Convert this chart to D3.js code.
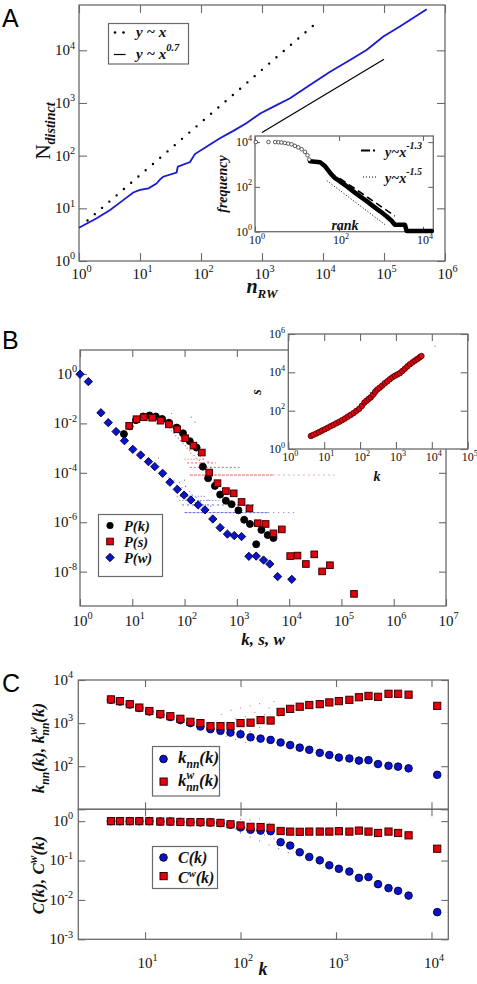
<!DOCTYPE html>
<html><head><meta charset="utf-8">
<script src="https://cdn.jsdelivr.net/npm/d3@7"></script>
<style>body{margin:0;background:#fff}</style>
</head><body>
<svg id="c" width="477" height="984"></svg>
<script>
// ---------------- DATA (values are log10 exponents) ----------------
// Panel A: distinct words vs random-walk steps
const walkCurve = [[0,0.63],[0.29,0.81],[0.51,0.97],[0.73,1.16],[0.89,1.30],[1.0,1.35],[1.14,1.38],[1.27,1.47],[1.33,1.55],[1.38,1.60],[1.60,1.68],[1.62,1.79],[1.82,1.88],[1.90,2.03],[2.09,2.17],[2.31,2.33],[2.53,2.47],[2.75,2.62],[2.97,2.80],[3.19,2.93],[3.46,3.09],[3.73,3.30],[4.11,3.59],[4.45,3.82],[4.72,4.01],[4.99,4.26],[5.26,4.45],[5.70,4.78]];
const refLinear = [[0.14,0.77],[3.94,4.57]];
const refPow07 = [[3.0,2.44],[5.0,3.83]];
const xTicksA = [0,1,2,3,4,5,6];
const yTicksA = [0,1,2,3,4];
// Panel A inset: rank-frequency
const rankOpen = [[0.02,4.0],[0.32,4.0],[0.48,4.0],[0.56,3.99],[0.63,3.98],[0.71,3.96],[0.79,3.93],[0.87,3.90],[0.95,3.83],[1.03,3.76],[1.11,3.68],[1.19,3.56],[1.25,3.41],[1.29,3.22]];
const rankFilled = [[1.31,3.14],[1.55,3.10],[1.67,2.92],[1.79,2.62],[1.90,2.40],[2.02,2.25],[2.18,2.03],[2.34,1.80],[2.50,1.58],[2.66,1.36],[2.82,1.13],[2.98,0.91],[3.13,0.69],[3.25,0.49],[3.33,0.31],[3.57,0.31],[3.61,0.03],[4.21,0.03]];
const refM13 = [[2.02,2.38],[3.33,0.70]];
const refM15 = [[1.71,2.28],[3.10,0.31]];
const xTicksAi = [0,2,4];
const yTicksAi = [0,2,4];
// Panel B: distributions
const Pk = [[0.84,-2.43],[0.95,-2.12],[1.07,-1.87],[1.21,-1.72],[1.33,-1.68],[1.45,-1.72],[1.57,-1.82],[1.70,-1.97],[1.85,-2.17],[1.97,-2.40],[2.10,-2.72],[2.23,-2.98],[2.35,-3.75],[2.45,-4.22],[2.58,-4.53],[2.68,-4.88],[2.79,-5.13],[2.90,-5.27],[3.03,-5.52],[3.14,-5.90],[3.25,-6.07],[3.37,-6.89],[3.47,-6.31],[3.59,-6.52],[3.70,-6.64]];
const Ps = [[0.94,-2.10],[1.08,-1.83],[1.22,-1.75],[1.38,-1.77],[1.54,-1.89],[1.70,-2.04],[1.86,-2.24],[2.01,-2.60],[2.17,-2.90],[2.33,-3.18],[2.47,-3.99],[2.63,-4.42],[2.79,-4.74],[2.94,-4.83],[3.09,-5.18],[3.24,-5.44],[3.40,-6.04],[3.55,-6.07],[3.70,-6.45],[3.86,-6.29],[4.02,-7.37],[4.16,-7.35],[4.32,-7.69],[4.48,-7.30],[4.63,-7.99],[4.78,-7.74],[5.24,-8.90]];
const Pw = [[0,-0.01],[0.16,-0.31],[0.40,-1.57],[0.54,-1.97],[0.69,-2.33],[0.85,-2.70],[1.01,-3.05],[1.16,-3.28],[1.31,-3.55],[1.43,-3.75],[1.58,-4.02],[1.72,-4.38],[1.86,-4.67],[1.99,-4.90],[2.12,-5.10],[2.26,-5.30],[2.39,-5.50],[2.54,-5.87],[2.68,-6.22],[2.82,-6.48],[2.95,-6.54],[3.09,-6.58],[3.23,-7.38],[3.37,-7.37],[3.51,-7.53],[3.63,-7.69],[3.78,-8.20],[4.05,-8.31]];
const rawS = [[1.62,-1.95],[1.68,-2.1],[1.72,-2.2],[1.75,-2.3],[1.78,-2.05],[1.80,-2.4],[1.83,-2.5],[1.85,-2.2],[1.88,-2.6],[1.90,-2.35],[1.92,-2.7],[1.95,-2.55],[1.97,-2.8],[2.0,-2.45],[2.02,-2.9],[2.05,-3.0],[2.07,-2.75],[2.10,-3.1],[2.12,-3.2],[2.15,-2.95],[2.18,-3.3],[2.20,-3.1],[2.22,-3.4],[2.25,-3.25],[2.28,-3.5],[2.30,-3.35],[2.33,-3.6],[2.36,-3.45],[2.40,-3.7],[2.13,-1.75],[2.20,-1.95],[1.75,-1.6],[2.45,-3.55],[2.5,-3.8],[1.5,-3.4]];
const rawW = [[1.8,-4.3],[1.85,-4.5],[1.9,-4.4],[1.92,-4.7],[1.95,-4.6],[2.0,-4.8],[2.02,-4.55],[2.05,-4.95],[2.1,-4.75],[2.12,-5.05],[2.15,-4.9],[2.2,-5.2],[2.22,-5.0],[2.25,-5.25],[2.3,-5.15],[2.35,-5.4],[2.4,-5.3],[1.7,-4.2],[2.45,-5.1],[2.5,-5.35],[1.75,-4.45],[2.0,-4.3]];
const streaksS = [[2.1,3.7,-4.09,"3,1"],[3.7,4.9,-4.09,"1,4"],[2.1,3.05,-3.78,"2,2"],[2.05,2.6,-3.6,"2,2"],[2.0,2.4,-3.45,"1,2"]];
const streaksW = [[2.0,3.6,-5.61,"3,1"],[3.6,4.14,-5.61,"1,4"],[1.95,3.37,-5.30,"2,3"],[1.9,2.7,-5.12,"1,2"],[1.85,2.4,-4.95,"1,2"]];
const xTicksB = [0,1,2,3,4,5,6,7];
const yTicksB = [0,-2,-4,-6,-8];
// Panel B inset: strength vs degree
const sOfK = [[0.63,0.68],[0.70,0.74],[0.78,0.81],[0.86,0.88],[0.94,0.96],[1.02,1.03],[1.10,1.11],[1.18,1.19],[1.26,1.26],[1.34,1.34],[1.42,1.42],[1.50,1.50],[1.58,1.59],[1.66,1.69],[1.74,1.78],[1.82,1.88],[1.90,1.99],[1.98,2.10],[2.05,2.25],[2.12,2.42],[2.18,2.52],[2.24,2.61],[2.30,2.70],[2.36,2.83],[2.42,2.98],[2.48,3.10],[2.55,3.20],[2.62,3.31],[2.69,3.43],[2.76,3.53],[2.83,3.64],[2.90,3.74],[2.97,3.82],[3.04,3.89],[3.11,3.96],[3.18,4.07],[3.25,4.19],[3.32,4.31],[3.39,4.42],[3.46,4.52],[3.53,4.61],[3.60,4.70],[3.66,4.78],[3.71,4.85]];
const rawSK = [[2.15,2.3],[2.2,2.75],[2.25,2.4],[2.3,2.95],[2.35,2.6],[2.4,3.15],[2.45,2.8],[2.5,3.3],[4.09,5.37]];
const xTicksBi = [0,1,2,3,4,5];
const yTicksBi = [0,2,4,6];
// Panel C: correlations
const kC = [0.643,0.737,0.84,0.94,1.045,1.16,1.265,1.37,1.475,1.58,1.685,1.79,1.895,2.0,2.105,2.21,2.315,2.42,2.52,2.62,2.72,2.83,2.93,3.03,3.14,3.24,3.34,3.44,3.55,3.65,3.76,4.06];
const knn = [3.54,3.50,3.43,3.35,3.27,3.20,3.14,3.07,3.0,2.92,2.86,2.82,2.78,2.74,2.67,2.64,2.61,2.55,2.49,2.43,2.38,2.31,2.26,2.20,2.18,2.13,2.14,2.05,2.01,1.99,1.95,1.80];
const knnW = [3.55,3.51,3.44,3.36,3.28,3.21,3.16,3.10,3.03,3.00,2.93,2.93,2.93,3.00,3.01,3.07,3.06,3.26,3.33,3.38,3.42,3.44,3.48,3.51,3.54,3.60,3.63,3.61,3.68,3.68,3.66,3.40];
const Ck = [0,0,0,0,0,-0.01,-0.01,-0.02,-0.025,-0.03,-0.035,-0.05,-0.09,-0.16,-0.22,-0.24,-0.255,-0.535,-0.62,-0.79,-0.91,-0.995,-1.12,-1.21,-1.28,-1.44,-1.42,-1.60,-1.70,-1.77,-1.89,-2.31];
const CwK = [0,0,0,0,0,-0.01,-0.01,-0.02,-0.025,-0.025,-0.03,-0.045,-0.08,-0.11,-0.145,-0.15,-0.17,-0.25,-0.265,-0.27,-0.265,-0.265,-0.265,-0.255,-0.265,-0.24,-0.265,-0.30,-0.265,-0.30,-0.36,-0.70];
const rawKnnW = [[1.8,3.2],[1.9,3.3],[2.0,3.35],[2.05,3.15],[2.1,3.4],[2.15,3.25],[2.2,3.45],[2.25,3.2],[2.3,3.35],[2.35,3.5],[1.95,3.1],[2.4,3.15],[2.2,2.9],[2.1,2.8]];
const rawKnn = [[1.85,2.7],[1.95,2.62],[2.0,2.85],[2.05,2.55]];
const rawC = [[1.9,-0.1],[1.95,-0.2],[2.0,-0.3],[2.05,-0.15],[2.1,-0.4],[2.15,-0.25],[2.2,-0.5],[2.25,-0.35],[2.3,-0.6],[2.35,-0.45],[2.4,-0.7],[2.45,-0.55],[2.5,-0.8],[2.55,-0.65],[2.6,-0.85],[2.65,-0.75],[2.7,-0.9]];
const rawCw = [[2.0,0.05],[2.1,0.03],[2.2,0.06],[2.3,-0.05],[3.0,-0.3],[3.4,-0.32]];
const xTicksC = [1,2,3,4];
const yTicksCt = [1,2,3,4];
const yTicksCb = [-3,-2,-1,0];

// ---------------- DRAWING ----------------
const svg = d3.select("#c");
const P = v => Math.pow(10, v);
const SERIF = "'Liberation Serif','Times New Roman',serif";
const SANS = "'Liberation Sans',Arial,sans-serif";
const FR = "#6a6a6a";
const RED = "#e4000c", RED_E = "#3a0000";
const BLUE = "#0a14c8", BLUE_E = "#00003a";

svg.append("rect").attr("width",477).attr("height",984).attr("fill","#fff");

function frame(x, y, xt, yt, len, bg) {
  const [x0,x1] = x.range(), [y0,y1] = y.range();
  const g = svg.append("g");
  if (bg) g.append("rect").attr("x",x0).attr("y",y1).attr("width",x1-x0).attr("height",y0-y1).attr("fill","#fff");
  const mk = (axis,tx,ty) => g.append("g").attr("transform",`translate(${tx},${ty})`)
      .call(axis.tickSizeInner(-len).tickSizeOuter(0).tickFormat(""));
  mk(d3.axisBottom(x).tickValues(xt.map(P)),0,y0);
  mk(d3.axisTop(x).tickValues(xt.map(P)),0,y1);
  mk(d3.axisLeft(y).tickValues(yt.map(P)),x0,0);
  mk(d3.axisRight(y).tickValues(yt.map(P)),x1,0);
  g.selectAll(".domain").remove();
  g.selectAll(".tick line").attr("stroke",FR).attr("stroke-width",1.1);
  g.append("rect").attr("x",x0).attr("y",y1).attr("width",x1-x0).attr("height",y0-y1)
    .attr("fill","none").attr("stroke",FR).attr("stroke-width",1.3);
  return g;
}
function pow10(px, py, e, size, anchor) {
  const t = svg.append("text").attr("x",px).attr("y",py).attr("font-family",SERIF)
    .attr("font-size",size).attr("text-anchor",anchor||"start").attr("fill","#111");
  t.append("tspan").text("10");
  t.append("tspan").attr("dy",-size*0.45).attr("font-size",size*0.68).text(e);
  return t;
}
function xLabels(x, vals, py, size) { vals.forEach(e => pow10(x(P(e)) - size*0.5, py, e, size, "start")); }
function yLabels(y, px, vals, size) { vals.forEach(e => pow10(px, y(P(e)) + size*0.33, e, size, "end")); }
function lineOf(x, y) { return d3.line().x(d => x(P(d[0]))).y(d => y(P(d[1]))); }
function circles(g, data, x, y, r, fill, stroke, sw) {
  g.selectAll(null).data(data).join("circle").attr("cx",d=>x(P(d[0]))).attr("cy",d=>y(P(d[1])))
    .attr("r",r).attr("fill",fill).attr("stroke",stroke).attr("stroke-width",sw==null?0.9:sw);
}
function squares(g, data, x, y, s, fill, stroke) {
  g.selectAll(null).data(data).join("rect").attr("x",d=>x(P(d[0]))-s/2).attr("y",d=>y(P(d[1]))-s/2)
    .attr("width",s).attr("height",s).attr("fill",fill).attr("stroke",stroke).attr("stroke-width",1);
}
function diamonds(g, data, x, y, size, fill, stroke) {
  g.selectAll(null).data(data).join("path").attr("d",d3.symbol(d3.symbolDiamond2,size)())
    .attr("transform",d=>`translate(${x(P(d[0]))},${y(P(d[1]))})`)
    .attr("fill",fill).attr("stroke",stroke).attr("stroke-width",0.9);
}
function dots(g, data, x, y, r, color, op) {
  g.selectAll(null).data(data).join("circle").attr("cx",d=>x(P(d[0]))).attr("cy",d=>y(P(d[1])))
    .attr("r",r).attr("fill",color).attr("opacity",op);
}
function label(px, py, size, parts, rot, anchor) {
  const t = svg.append("text").attr("font-family",SERIF).attr("font-size",size)
    .attr("font-weight","bold").attr("font-style","italic").attr("fill","#111")
    .attr("text-anchor",anchor||"start");
  if (rot) t.attr("transform",`translate(${px},${py}) rotate(-90)`); else t.attr("x",px).attr("y",py);
  parts.forEach(p => {
    const s = t.append("tspan").text(p.t);
    if (p.dy) s.attr("dy",p.dy); if (p.dx) s.attr("dx",p.dx);
    if (p.fs) s.attr("font-size",p.fs);
    if (p.w) s.attr("font-weight",p.w); if (p.st) s.attr("font-style",p.st);
  });
  return t;
}
function panelLetter(ch, px, py) {
  svg.append("text").attr("x",px).attr("y",py).attr("font-family",SANS).attr("font-size",25).attr("fill","#000").text(ch);
}

// ===== Panel A =====
const xA = d3.scaleLog().domain([1,1e6]).range([79,445]);
const yA = d3.scaleLog().domain([1,P(4.86)]).range([261,5]);
frame(xA, yA, xTicksA, yTicksA, 8);
xLabels(xA, xTicksA, 279, 15);
yLabels(yA, 75, yTicksA, 15);
const gA = svg.append("g");
gA.append("path").attr("d",lineOf(xA,yA)(refLinear)).attr("stroke","#000").attr("stroke-width",2.4)
  .attr("stroke-linecap","round").attr("stroke-dasharray","0,9.6").attr("fill","none");
gA.append("path").attr("d",lineOf(xA,yA)(refPow07)).attr("stroke","#000").attr("stroke-width",1.2).attr("fill","none");
gA.append("path").attr("d",lineOf(xA,yA)(walkCurve)).attr("stroke","#1a1ad0").attr("stroke-width",1.8).attr("fill","none");
// legend A
svg.append("rect").attr("x",108.5).attr("y",23.5).attr("width",80).attr("height",40.5).attr("fill","#fff").attr("stroke",FR).attr("stroke-width",1.2);
[115,123.5].forEach(cx => svg.append("circle").attr("cx",cx).attr("cy",32.5).attr("r",1.3).attr("fill","#000"));
svg.append("line").attr("x1",114).attr("x2",125.5).attr("y1",54.5).attr("y2",54.5).attr("stroke","#000").attr("stroke-width",1.2);
label(136, 37, 15, [{t:"y ~ x"}]);
label(136, 59, 15, [{t:"y ~ x"},{t:"0.7",dy:-8,fs:10.5}]);
label(50, 131, 21, [{t:"N",w:"normal",st:"normal"},{t:"distinct",dy:5,fs:14}], true, "middle");
label(262, 293, 20, [{t:"n"},{t:"RW",dy:5,fs:13}], false, "middle");

// A inset
const xAi = d3.scaleLog().domain([1,P(4.245)]).range([255,433.3]);
const yAi = d3.scaleLog().domain([1,P(4.27)]).range([231.7,136]);
frame(xAi, yAi, xTicksAi, yTicksAi, 5, true);
xLabels(xAi, xTicksAi, 244, 12);
yLabels(yAi, 252, yTicksAi, 12);
const gAi = svg.append("g");
gAi.append("path").attr("d",lineOf(xAi,yAi)(rankFilled)).attr("stroke","#000").attr("stroke-width",4.6)
  .attr("stroke-linejoin","round").attr("stroke-linecap","round").attr("fill","none");
circles(gAi, rankOpen, xAi, yAi, 1.8, "#fff", "#333", 0.8);
gAi.append("path").attr("d",lineOf(xAi,yAi)(refM13)).attr("stroke","#000").attr("stroke-width",1.6).attr("stroke-dasharray","7,4").attr("fill","none");
gAi.append("path").attr("d",lineOf(xAi,yAi)(refM15)).attr("stroke","#000").attr("stroke-width",1).attr("stroke-dasharray","1,2").attr("fill","none");
svg.append("line").attr("x1",361).attr("x2",370).attr("y1",150.5).attr("y2",150.5).attr("stroke","#000").attr("stroke-width",2);
svg.append("line").attr("x1",373).attr("x2",375).attr("y1",150.5).attr("y2",150.5).attr("stroke","#000").attr("stroke-width",2);
svg.append("line").attr("x1",363).attr("x2",377).attr("y1",177).attr("y2",177).attr("stroke","#000").attr("stroke-width",1).attr("stroke-dasharray","1,2");
label(385, 157, 14, [{t:"y~x"},{t:"-1.3",dy:-8,fs:10}]);
label(385, 183, 14, [{t:"y~x"},{t:"-1.5",dy:-8,fs:10}]);
label(227, 184, 14, [{t:"frequency"}], true, "middle");
label(345, 230, 14, [{t:"rank"}], false, "middle");

// ===== Panel B =====
const xB = d3.scaleLog().domain([1,1e7]).range([80,446]);
const yB = d3.scaleLog().domain([P(-9.39),P(0.97)]).range([606,350]);
frame(xB, yB, xTicksB, yTicksB, 7);
xLabels(xB, xTicksB, 626, 15);
yLabels(yB, 77, yTicksB, 15);
const gB = svg.append("g");
streaksS.forEach(s => gB.append("line").attr("x1",xB(P(s[0]))).attr("x2",xB(P(s[1]))).attr("y1",yB(P(s[2]))).attr("y2",yB(P(s[2])))
  .attr("stroke","#d22").attr("stroke-width",0.9).attr("stroke-dasharray",s[3]).attr("opacity",0.8));
streaksW.forEach(s => gB.append("line").attr("x1",xB(P(s[0]))).attr("x2",xB(P(s[1]))).attr("y1",yB(P(s[2]))).attr("y2",yB(P(s[2])))
  .attr("stroke","#33c").attr("stroke-width",0.9).attr("stroke-dasharray",s[3]).attr("opacity",0.8));
dots(gB, rawS, xB, yB, 0.6, "#d22", 0.8);
dots(gB, rawW, xB, yB, 0.6, "#33c", 0.8);
circles(gB, Pk, xB, yB, 3.5, "#000", "#000");
squares(gB, Ps, xB, yB, 6.6, RED, RED_E);
diamonds(gB, Pw, xB, yB, 44, BLUE, BLUE_E);
// legend B
svg.append("rect").attr("x",98.5).attr("y",514.5).attr("width",64).attr("height",62).attr("fill","#fff").attr("stroke",FR).attr("stroke-width",1.2);
svg.append("circle").attr("cx",110).attr("cy",525.5).attr("r",3.5).attr("fill","#000");
svg.append("rect").attr("x",106.7).attr("y",538.2).attr("width",6.6).attr("height",6.6).attr("fill",RED).attr("stroke",RED_E);
svg.append("path").attr("d",d3.symbol(d3.symbolDiamond2,44)()).attr("transform","translate(110,557.5)").attr("fill",BLUE).attr("stroke",BLUE_E);
label(124, 530.5, 14.5, [{t:"P(k)"}]);
label(124, 546.5, 14.5, [{t:"P(s)"}]);
label(124, 562.5, 14.5, [{t:"P(w)"}]);
label(263, 645, 17, [{t:"k, s, w"}], false, "middle");

// B inset
const xBi = d3.scaleLog().domain([1,1e5]).range([288.3,467.7]);
const yBi = d3.scaleLog().domain([1,1e6]).range([449,334]);
frame(xBi, yBi, xTicksBi, yTicksBi, 7, true);
xLabels(xBi, xTicksBi, 461, 12);
yLabels(yBi, 285, yTicksBi, 12);
const gBi = svg.append("g");
dots(gBi, rawSK, xBi, yBi, 0.6, "#333", 0.8);
circles(gBi, sOfK, xBi, yBi, 2.8, RED, "#400", 0.8);
label(261, 392, 14, [{t:"s"}], true, "middle");
label(377, 481, 14, [{t:"k"}], false, "middle");

// ===== Panel C =====
const xC = d3.scaleLog().domain([2,15000]).range([78.3,448.3]);
const yCt = d3.scaleLog().domain([10,1e4]).range([809.3,680]);
const yCb = d3.scaleLog().domain([1e-3,2]).range([939.3,809.3]);
frame(xC, yCt, xTicksC, yTicksCt, 7);
frame(xC, yCb, xTicksC, yTicksCb, 7);
xLabels(xC, xTicksC, 968, 15);
yLabels(yCt, 73, [2,3,4], 15);
yLabels(yCb, 73, yTicksCb, 15);
const zip = (xs, ys) => xs.map((v,i) => [v, ys[i]]);
const gCt = svg.append("g"), gCb = svg.append("g");
dots(gCt, rawKnnW, xC, yCt, 0.6, "#d22", 0.7);
dots(gCt, rawKnn, xC, yCt, 0.6, "#33c", 0.7);
circles(gCt, zip(kC,knn), xC, yCt, 3.8, BLUE, BLUE_E);
squares(gCt, zip(kC,knnW), xC, yCt, 7.2, RED, RED_E);
dots(gCb, rawC, xC, yCb, 0.6, "#33c", 0.7);
dots(gCb, rawCw, xC, yCb, 0.6, "#d22", 0.7);
circles(gCb, zip(kC,Ck), xC, yCb, 3.8, BLUE, BLUE_E);
squares(gCb, zip(kC,CwK), xC, yCb, 7.2, RED, RED_E);
// legends C
svg.append("rect").attr("x",152.5).attr("y",746.5).attr("width",67).attr("height",49.5).attr("fill","#fff").attr("stroke",FR).attr("stroke-width",1.2);
svg.append("circle").attr("cx",163.5).attr("cy",759).attr("r",3.8).attr("fill",BLUE).attr("stroke",BLUE_E);
svg.append("rect").attr("x",160).attr("y",778).attr("width",7.2).attr("height",7.2).attr("fill",RED).attr("stroke",RED_E);
label(178, 763, 17, [{t:"k"},{t:"nn",dy:5,fs:11.5},{t:"(k)",dy:-5}]);
label(178, 786, 17, [{t:"k"},{t:"w",dy:-7,fs:11.5},{t:"nn",dx:-8,dy:12,fs:11.5},{t:"(k)",dy:-5}]);
svg.append("rect").attr("x",152.5).attr("y",846.5).attr("width",65).attr("height",42).attr("fill","#fff").attr("stroke",FR).attr("stroke-width",1.2);
svg.append("circle").attr("cx",163.5).attr("cy",857.5).attr("r",3.8).attr("fill",BLUE).attr("stroke",BLUE_E);
svg.append("rect").attr("x",160).attr("y",872.5).attr("width",7.2).attr("height",7.2).attr("fill",RED).attr("stroke",RED_E);
label(178, 863, 16, [{t:"C(k)"}]);
label(178, 883, 16, [{t:"C"},{t:"w",dy:-6,fs:10.5},{t:"(k)",dy:6}]);
label(44, 748, 17, [{t:"k"},{t:"nn",dy:5,fs:11.5},{t:"(k), k",dy:-5},{t:"w",dy:-7,fs:11.5},{t:"nn",dx:-8,dy:12,fs:11.5},{t:"(k)",dy:-5}], true, "middle");
label(44, 875, 17, [{t:"C(k), C"},{t:"w",dy:-7,fs:11.5},{t:"(k)",dy:7}], true, "middle");
label(263, 975, 18, [{t:"k"}], false, "middle");

panelLetter("A", 2, 27);
panelLetter("B", 2, 349);
panelLetter("C", 2, 692);
</script>
</body></html>
